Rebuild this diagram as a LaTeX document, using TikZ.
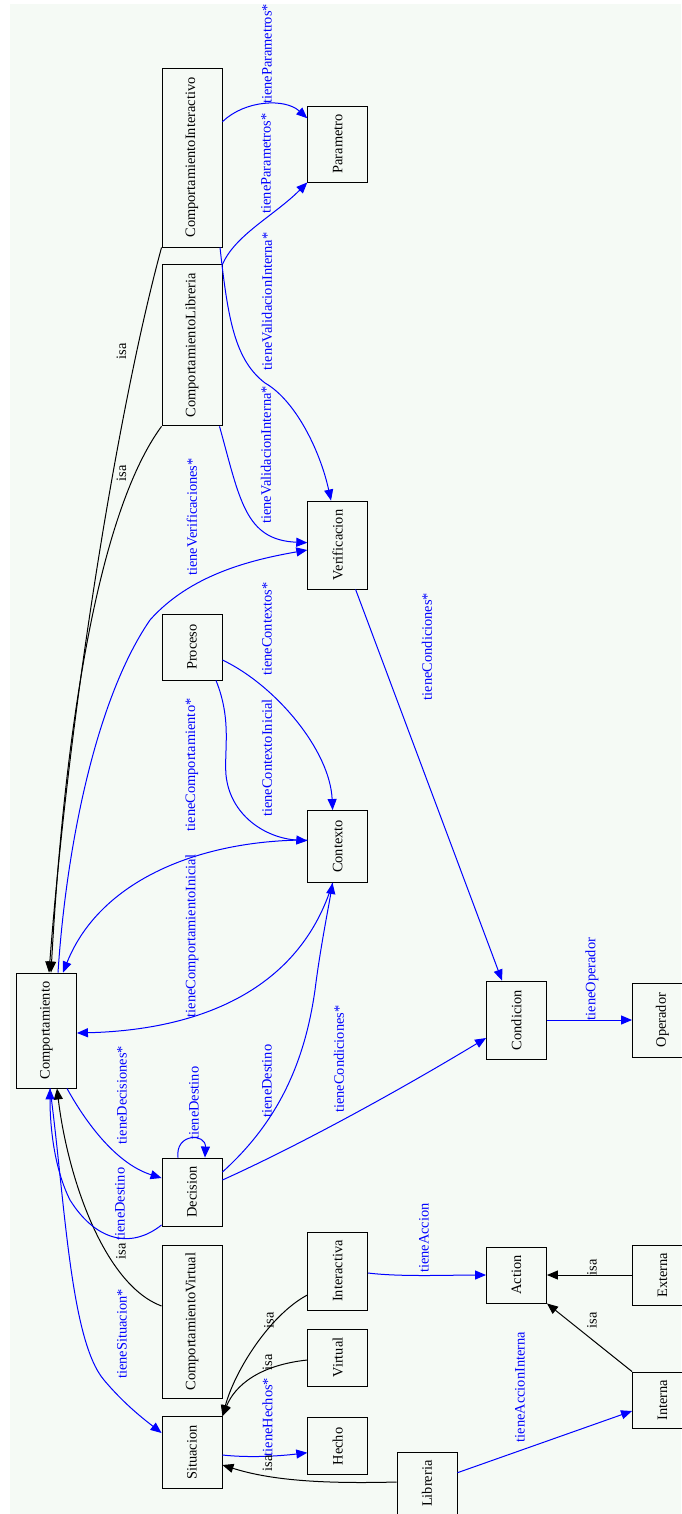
\documentclass[tikz,border=0pt]{standalone}
\usepackage{fontspec}
\usepackage{graphicx}
\setmainfont{Liberation Serif}
\usetikzlibrary{arrows.meta,calc}
\definecolor{canvas}{RGB}{245,250,245}
\definecolor{relblue}{RGB}{0,0,255}

\begin{document}
\begin{tikzpicture}[x=1pt,y=-1pt,
  font=\fontsize{14.4}{16}\selectfont,
  box/.style={draw=black, line width=0.9pt, minimum width=60pt, inner sep=0pt},
  rel/.style={draw=relblue, line width=1pt, -{Triangle[length=11pt,width=9pt]}},
  isa/.style={draw=black, line width=1pt, -{Triangle[length=11pt,width=9pt]}},
  rlbl/.style={text=relblue, rotate=90, inner sep=0pt},
  ilbl/.style={text=black, rotate=90, inner sep=0pt}]

\useasboundingbox (0,0) rectangle (681,1514);
\fill[canvas] (10,4) rectangle (681,1514);

% classes
\node[box, minimum height=179pt] (ci) at (192,157.5) {\rotatebox{90}{ComportamientoInteractivo}};
\node[box, minimum height=76pt] (par) at (337.75,144) {\rotatebox{90}{Parametro}};
\node[box, minimum height=161pt] (cl) at (192,345.4) {\rotatebox{90}{ComportamientoLibreria}};
\node[box, minimum height=88pt] (ver) at (337.75,545) {\rotatebox{90}{Verificacion}};
\node[box, minimum height=66pt] (pro) at (192,647) {\rotatebox{90}{Proceso}};
\node[box, minimum height=72pt] (ctx) at (337.75,846.5) {\rotatebox{90}{Contexto}};
\node[box, minimum height=115pt] (com) at (46.5,1030.5) {\rotatebox{90}{Comportamiento}};
\node[box, minimum height=78pt] (cond) at (516.5,1020) {\rotatebox{90}{Condicion}};
\node[box, minimum height=74pt] (op) at (662.5,1020) {\rotatebox{90}{Operador}};
\node[box, minimum height=68pt] (dec) at (192,1192) {\rotatebox{90}{Decision}};
\node[box, minimum height=153pt] (cv) at (192,1321.5) {\rotatebox{90}{ComportamientoVirtual}};
\node[box, minimum height=78pt] (inter) at (337.75,1271) {\rotatebox{90}{Interactiva}};
\node[box, minimum height=57pt] (virt) at (337.75,1357.5) {\rotatebox{90}{Virtual}};
\node[box, minimum height=57pt] (hecho) at (337.75,1446.4) {\rotatebox{90}{Hecho}};
\node[box, minimum height=72pt] (sit) at (192,1452.7) {\rotatebox{90}{Situacion}};
\node[box, minimum height=62pt] (lib) at (427,1483.7) {\rotatebox{90}{Libreria}};
\node[box, minimum height=56pt] (act) at (516.5,1275) {\rotatebox{90}{Action}};
\node[box, minimum height=60pt] (ext) at (662.5,1275) {\rotatebox{90}{Externa}};
\node[box, minimum height=56pt] (int) at (662.5,1400) {\rotatebox{90}{Interna}};

% inheritance
\draw[isa] (ci.south west) .. controls (120,400) and (70,700) .. (49,0 |- com.north);
\draw[isa] (cl.south west) .. controls (100,510) and (65,720) .. (51,0 |- com.north);
\draw[isa] (cv.west |- 0,1306) .. controls (105,1285) and (68,1180) .. (57,0 |- com.south);
\draw[isa] (inter.west |- 0,1295) .. controls (270,1315) and (235,1370) .. (sit.north east);
\draw[isa] (virt.west |- 0,1360) .. controls (260,1365) and (235,1385) .. (sit.north east);
\draw[isa] (lib.west |- 0,1482) .. controls (320,1484) and (270,1480) .. (sit.east |- 0,1465);
\draw[isa] (ext.west) -- (act.east);
\draw[isa] (int.north west) -- (act.south east);

% properties
\draw[rel] (ci.east |- 0,121.7) .. controls (245,100) and (285,98) .. (par.west |- 0,118.3);
\draw[rel] (cl.north east) .. controls (235,235) and (275,215) .. (par.south west);
\draw[rel] (220,0 |- ci.south) .. controls (228,320) and (235,360) .. (265,383) .. controls (295,400) and (320,450) .. (331,0 |- ver.north);
\draw[rel] (219.5,0 |- cl.south) .. controls (240,500) and (245,540) .. (ver.west |- 0,542.7);
\draw[rel] (58,0 |- com.north) .. controls (66,850) and (95,700) .. (150,620) .. controls (190,575) and (250,560) .. (ver.west |- 0,550);
\draw[rel] (pro.east |- 0,660) .. controls (275,685) and (330,750) .. (332.6,0 |- ctx.north);
\draw[rel] (216,0 |- pro.south) .. controls (232,720) and (224,750) .. (226,775) .. controls (230,815) and (265,838) .. (ctx.west |- 0,840.7);
\draw[rel] (ctx.west |- 0,840) .. controls (200,840) and (100,880) .. (63,0 |- com.north);
\draw[rel] (332.6,0 |- ctx.south) .. controls (300,990) and (200,1030) .. (com.east |- 0,1033);
\draw[rel] (dec.east |- 0,1172) .. controls (280,1120) and (305,1060) .. (315,990) .. controls (320,950) and (328,910) .. (332.6,0 |- ctx.south);
\draw[rel] (67,0 |- com.south) .. controls (90,1130) and (120,1165) .. (dec.west |- 0,1178);
\draw[rel] (178,0 |- dec.north) .. controls (175,1133) and (206,1133) .. (205,0 |- dec.north);
\draw[rel] (dec.west |- 0,1225) .. controls (130,1250) and (95,1240) .. (70,1200) .. controls (55,1170) and (50,1130) .. (50,0 |- com.south);
\draw[rel] (50,0 |- com.south) .. controls (65,1200) and (70,1340) .. (104,1380) .. controls (125,1405) and (145,1420) .. (sit.west |- 0,1433);
\draw[rel] (sit.east |- 0,1455) .. controls (250,1458) and (280,1456) .. (hecho.west |- 0,1452.7);
\draw[rel] (inter.east |- 0,1273) .. controls (400,1277) and (450,1275) .. (act.west |- 0,1275);
\draw[rel] (lib.east |- 0,1472.7) -- (int.west |- 0,1411);
\draw[rel] (dec.east |- 0,1180) .. controls (300,1145) and (400,1090) .. (cond.west |- 0,1038);
\draw[rel] (355.6,0 |- ver.south) -- (502,0 |- cond.north);
\draw[rel] (cond.east) -- (op.west);

% edge labels
\node[ilbl] (li1) at (121.5,351.5) {isa};
\node[ilbl] (li2) at (121.5,473.5) {isa};
\node[ilbl] (li3) at (121,1251.5) {isa};
\node[ilbl] (li4) at (269,1320) {isa};
\node[ilbl] (li5) at (267.5,1362) {isa};
\node[ilbl] (li6) at (267.5,1463.5) {isa};
\node[ilbl] (li7) at (592,1267) {isa};
\node[ilbl] (li8) at (592,1320.5) {isa};

\node[rlbl] (lr1) at (267,54) {tieneParametros*};
\node[rlbl] (lr2) at (266,163.5) {tieneParametros*};
\node[rlbl] (lr3) at (267,301.5) {tieneValidacionInterna*};
\node[rlbl] (lr4) at (266,455) {tieneValidacionInterna*};
\node[rlbl] (lr5) at (192,517) {tieneVerificaciones*};
\node[rlbl] (lr6) at (267,629) {tieneContextos*};
\node[rlbl] (lr7) at (267,758) {tieneContextoInicial};
\node[rlbl] (lr8) at (192,765) {tieneComportamiento*};
\node[rlbl] (lr9) at (192,936) {tieneComportamientoInicial};
\node[rlbl] (lr10) at (267,1081) {tieneDestino};
\node[rlbl] (lr11) at (339,1059) {tieneCondiciones*};
\node[rlbl] (lr12) at (427,646.5) {tieneCondiciones*};
\node[rlbl] (lr13) at (122,1095) {tieneDecisiones*};
\node[rlbl] (lr14) at (194,1103) {tieneDestino};
\node[rlbl] (lr15) at (120,1204) {tieneDestino};
\node[rlbl] (lr16) at (122,1334) {tieneSituacion*};
\node[rlbl] (lr17) at (267.5,1417) {tieneHechos*};
\node[rlbl] (lr18) at (424,1238) {tieneAccion};
\node[rlbl] (lr19) at (520,1387) {tieneAccionInterna};
\node[rlbl] (lr20) at (592,979) {tieneOperador};
\end{tikzpicture}
\end{document}
